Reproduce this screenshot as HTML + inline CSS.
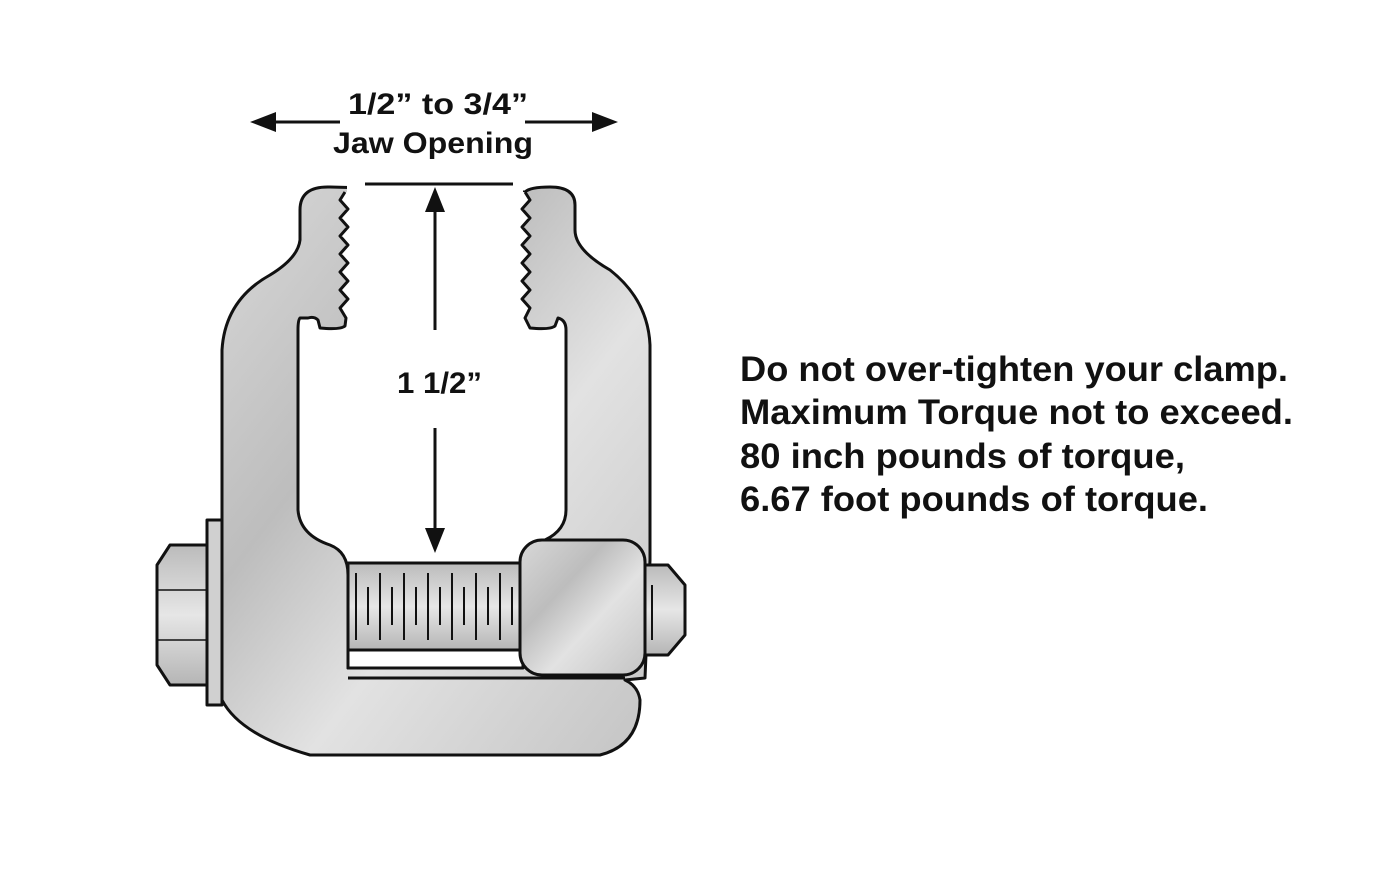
<!DOCTYPE html>
<html><head><style>
html,body{margin:0;padding:0;background:#fff;}
svg{display:block;}
text{font-family:"Liberation Sans",Arial,sans-serif;font-weight:bold;fill:#111;}
</style></head><body>
<svg width="1400" height="875" viewBox="0 0 1400 875" xmlns="http://www.w3.org/2000/svg">
<defs>
<linearGradient id="g1" x1="0" y1="0" x2="1" y2="1">
<stop offset="0" stop-color="#d8d8d8"/><stop offset="0.35" stop-color="#bdbdbd"/><stop offset="0.6" stop-color="#e2e2e2"/><stop offset="1" stop-color="#c4c4c4"/>
</linearGradient>
<linearGradient id="g2" x1="0" y1="0" x2="0" y2="1">
<stop offset="0" stop-color="#bbb"/><stop offset="0.5" stop-color="#e6e6e6"/><stop offset="1" stop-color="#b5b5b5"/>
</linearGradient>
</defs>
<g stroke="#111" stroke-width="3" stroke-linejoin="round">
<polygon points="170,545 207,545 207,685 170,685 157,665 157,565" fill="url(#g2)"/>
<line x1="157" y1="590" x2="207" y2="590" stroke-width="1.5"/>
<line x1="157" y1="640" x2="207" y2="640" stroke-width="1.5"/>
<rect x="207" y="520" width="15" height="185" fill="#d0d0d0"/>
<path d="M330,187 Q300,186 300,210 L300,240 Q298,258 270,275 Q225,300 222,350 L222,700 Q240,735 310,755 L600,755 Q640,745 640,700 Q638,686 625,680 L645,678 L650,560 L650,345 Q648,300 610,270 Q575,250 575,230 L575,205 Q575,187 550,187 Q530,187 525,192 Z" fill="url(#g1)"/>
</g>
<rect x="347" y="178" width="176" height="16" fill="#fff"/>
<g stroke="#111" stroke-width="3" stroke-linejoin="round">
<path d="M345,192 L340,200 L348,209 L340,218 L348,227 L340,236 L348,245 L340,254 L348,263 L340,272 L348,281 L340,290 L348,299 L340,308 L346,318 L345,326 Q340,330 320,328 L318,320 Q314,316 308,318 L300,318 Q298,320 298,330 L298,510 Q300,535 330,545 Q348,552 348,575 L348,668 L522,668 L520,565 Q522,545 545,540 Q566,530 566,510 L566,330 Q566,320 558,318 L555,326 Q550,330 530,328 L525,318 L530,308 L522,299 L530,290 L522,281 L530,272 L522,263 L530,254 L522,245 L530,236 L522,227 L530,218 L522,209 L530,200 L525,192" fill="#fff"/>
<rect x="348" y="563" width="175" height="87" fill="url(#g2)"/>
<rect x="348" y="650" width="175" height="18" fill="#fff"/>
<line x1="348" y1="678" x2="625" y2="678"/>
<polygon points="640,565 668,565 685,585 685,635 668,655 640,655" fill="url(#g2)"/>
<rect x="520" y="540" width="125" height="135" rx="22" fill="url(#g1)"/>
</g>
<g stroke="#111" stroke-width="2">
<line x1="356" y1="573" x2="356" y2="640"/><line x1="368" y1="587" x2="368" y2="625"/>
<line x1="380" y1="573" x2="380" y2="640"/><line x1="392" y1="587" x2="392" y2="625"/>
<line x1="404" y1="573" x2="404" y2="640"/><line x1="416" y1="587" x2="416" y2="625"/>
<line x1="428" y1="573" x2="428" y2="640"/><line x1="440" y1="587" x2="440" y2="625"/>
<line x1="452" y1="573" x2="452" y2="640"/><line x1="464" y1="587" x2="464" y2="625"/>
<line x1="476" y1="573" x2="476" y2="640"/><line x1="488" y1="587" x2="488" y2="625"/>
<line x1="500" y1="573" x2="500" y2="640"/><line x1="512" y1="587" x2="512" y2="625"/>
<line x1="652" y1="585" x2="652" y2="640"/>
</g>
<g stroke="#111" stroke-width="3" fill="#111">
<line x1="365" y1="184" x2="513" y2="184"/>
<line x1="268" y1="122" x2="340" y2="122"/>
<line x1="525" y1="122" x2="600" y2="122"/>
<line x1="435" y1="205" x2="435" y2="330"/>
<line x1="435" y1="428" x2="435" y2="535"/>
</g>
<g fill="#111">
<polygon points="250,122 276,112 276,132"/>
<polygon points="618,122 592,112 592,132"/>
<polygon points="435,187 425,212 445,212"/>
<polygon points="435,553 425,528 445,528"/>
</g>
<text x="348" y="114" font-size="30" textLength="180" lengthAdjust="spacingAndGlyphs">1/2” to 3/4”</text>
<text x="333" y="153" font-size="30" textLength="200" lengthAdjust="spacingAndGlyphs">Jaw Opening</text>
<text x="397" y="393" font-size="30" textLength="85" lengthAdjust="spacingAndGlyphs">1 1/2”</text>
<g font-size="35">
<text x="740" y="381" textLength="548" lengthAdjust="spacingAndGlyphs">Do not over-tighten your clamp.</text>
<text x="740" y="424" textLength="553" lengthAdjust="spacingAndGlyphs">Maximum Torque not to exceed.</text>
<text x="740" y="468" textLength="445" lengthAdjust="spacingAndGlyphs">80 inch pounds of torque,</text>
<text x="740" y="511" textLength="468" lengthAdjust="spacingAndGlyphs">6.67 foot pounds of torque.</text>
</g>
</svg>
</body></html>
